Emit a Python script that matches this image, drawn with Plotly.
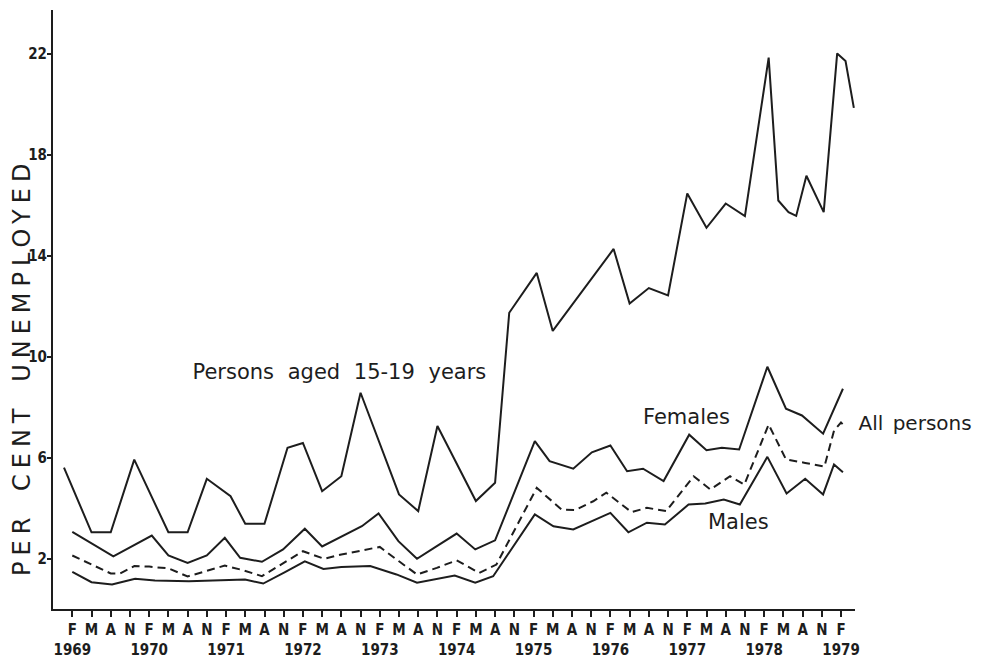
import plotly.graph_objects as go

# ---------------- data (time in decimal years, values in per cent) ----------------
t_15_19 = [1968.975, 1969.333, 1969.583, 1969.889, 1970.333, 1970.583, 1970.833,
           1971.142, 1971.333, 1971.583, 1971.883, 1972.083, 1972.333, 1972.583,
           1972.833, 1973.333, 1973.583, 1973.833, 1974.333, 1974.583, 1974.767,
           1975.125, 1975.333, 1976.125, 1976.333, 1976.583, 1976.833, 1977.083,
           1977.333, 1977.583, 1977.833, 1978.142, 1978.267, 1978.400, 1978.500,
           1978.633, 1978.858, 1979.033, 1979.142, 1979.250]
pct_15_19 = [5.60, 3.04, 3.04, 5.92, 3.04, 3.04, 5.16,
             4.47, 3.38, 3.38, 6.39, 6.58, 4.67, 5.26,
             8.57, 4.54, 3.88, 7.25, 4.28, 5.00, 11.74,
             13.32, 11.02, 14.27, 12.11, 12.72, 12.43, 16.47,
             15.11, 16.07, 15.57, 21.85, 16.19, 15.73, 15.58,
             17.17, 15.73, 22.02, 21.72, 19.86]

t_females = [1969.083, 1969.617, 1970.117, 1970.333, 1970.583, 1970.833, 1971.067,
             1971.267, 1971.550, 1971.825, 1972.108, 1972.333, 1972.850, 1973.067,
             1973.325, 1973.567, 1973.825, 1974.083, 1974.325, 1974.583, 1975.100,
             1975.292, 1975.600, 1975.842, 1976.083, 1976.300, 1976.508, 1976.775,
             1977.108, 1977.333, 1977.533, 1977.758, 1978.125, 1978.367, 1978.575,
             1978.850, 1979.108]
pct_females = [3.06, 2.09, 2.91, 2.12, 1.83, 2.12, 2.82,
               2.03, 1.87, 2.36, 3.18, 2.48, 3.28, 3.79,
               2.69, 1.99, 2.49, 2.99, 2.36, 2.72, 6.65,
               5.86, 5.56, 6.21, 6.48, 5.46, 5.56, 5.07,
               6.91, 6.29, 6.39, 6.32, 9.60, 7.94, 7.67,
               6.95, 8.73]

t_all = [1969.083, 1969.583, 1969.704, 1969.890, 1970.083, 1970.333, 1970.583,
         1971.067, 1971.300, 1971.550, 1972.083, 1972.358, 1972.583, 1972.833,
         1973.083, 1973.333, 1973.567, 1973.825, 1974.083, 1974.375, 1974.600,
         1975.125, 1975.450, 1975.625, 1975.860, 1976.030, 1976.358, 1976.558,
         1976.808, 1977.167, 1977.383, 1977.640, 1977.825, 1978.142, 1978.367,
         1978.617, 1978.867, 1978.992, 1979.083, 1979.150]
pct_all = [2.12, 1.41, 1.41, 1.70, 1.68, 1.61, 1.29,
           1.72, 1.54, 1.30, 2.29, 1.99, 2.16, 2.30,
           2.46, 1.89, 1.37, 1.63, 1.93, 1.43, 1.76,
           4.80, 3.94, 3.92, 4.27, 4.61, 3.84, 4.01,
           3.88, 5.26, 4.74, 5.26, 4.93, 7.31, 5.93,
           5.79, 5.64, 7.07, 7.39, 7.19]

t_males = [1969.083, 1969.333, 1969.600, 1969.900, 1970.158, 1970.600, 1971.330,
           1971.567, 1971.850, 1972.108, 1972.350, 1972.583, 1972.958, 1973.300,
           1973.567, 1974.058, 1974.325, 1974.558, 1975.100, 1975.342, 1975.600,
           1976.083, 1976.317, 1976.558, 1976.792, 1977.100, 1977.317, 1977.558,
           1977.767, 1978.125, 1978.375, 1978.617, 1978.850, 1978.992, 1979.108]
pct_males = [1.47, 1.06, 0.97, 1.20, 1.13, 1.10, 1.17,
             1.01, 1.46, 1.89, 1.59, 1.66, 1.70, 1.37,
             1.04, 1.33, 1.04, 1.30, 3.75, 3.28, 3.15,
             3.81, 3.04, 3.42, 3.35, 4.14, 4.18, 4.34,
             4.14, 6.03, 4.58, 5.16, 4.54, 5.73, 5.42]

# tick labels: Feb, May, Aug, Nov of each year, plus Feb 1979
quarter_letters = ["F", "M", "A", "N"]
quarter_month_offsets = [1, 4, 7, 10]   # months after January
tick_years = list(range(1969, 1979))
y_ticks = [2, 6, 10, 14, 18, 22]

tick_vals, tick_text = [], []
for yr in tick_years:
    for letter, mo in zip(quarter_letters, quarter_month_offsets):
        tick_vals.append(yr + mo / 12)
        tick_text.append(f"F<br>{yr}" if letter == "F" else letter)
tick_vals.append(1979 + 1 / 12)
tick_text.append("F<br>1979")

# ---------------- figure ----------------
ink = "#1d1d1d"
fig = go.Figure()
series = [
    (t_15_19, pct_15_19, "solid", "Persons aged 15-19 years"),
    (t_females, pct_females, "solid", "Females"),
    (t_all, pct_all, "8px,5px", "All persons"),
    (t_males, pct_males, "solid", "Males"),
]
for xs, ys, dash, name in series:
    fig.add_trace(go.Scatter(x=xs, y=ys, mode="lines", name=name,
                             line=dict(color=ink, width=2, dash=dash),
                             showlegend=False, hoverinfo="skip"))

label_font = dict(family="DejaVu Sans", size=21, color=ink)
tick_font_family = "DejaVu Sans Condensed, DejaVu Sans"

fig.update_layout(
    width=975, height=651,
    margin=dict(l=45, r=128, t=2, b=50),
    paper_bgcolor="white", plot_bgcolor="white",
    xaxis=dict(range=[1968.832, 1979.265], tickmode="array", tickvals=tick_vals,
               ticktext=tick_text, tickangle=0, ticks="outside", ticklen=6,
               tickwidth=1.5, tickcolor=ink, showline=True, linewidth=2,
               linecolor=ink, showgrid=False, zeroline=False, automargin=False,
               tickfont=dict(family=tick_font_family, size=15, color=ink, weight="bold")),
    yaxis=dict(range=[0, 23.74], tickmode="array", tickvals=y_ticks,
               ticktext=[str(v) for v in y_ticks], ticks="outside", ticklen=4,
               ticklabelstandoff=-3,
               tickwidth=1.5, tickcolor=ink, showline=True, linewidth=2,
               linecolor=ink, showgrid=False, zeroline=False, automargin=False,
               tickfont=dict(family=tick_font_family, size=15, color=ink, weight="bold")),
    annotations=[
        dict(text="Persons aged 15-19 years", x=1972.559, y=9.41, xref="x", yref="y",
             showarrow=False, font=label_font, xanchor="center", yanchor="middle"),
        dict(text="Females", x=1977.073, y=7.59, xref="x", yref="y",
             showarrow=False, font=label_font, xanchor="center", yanchor="middle"),
        dict(text="Males", x=1977.743, y=3.45, xref="x", yref="y",
             showarrow=False, font=label_font, xanchor="center", yanchor="middle"),
        dict(text="All persons", x=1.004, y=7.39, xref="paper", yref="y",
             showarrow=False, font=dict(family="DejaVu Sans", size=20, color=ink),
             xanchor="left", yanchor="middle"),
        dict(text="PER CENT UNEMPLOYED", x=-0.0387, y=0.404, xref="paper", yref="paper",
             showarrow=False, textangle=-90, xanchor="center", yanchor="middle",
             font=dict(family="DejaVu Sans", size=24, color=ink)),
    ],
)

# the original lettering is set with generous word and letter spacing
spacing_js = """
document.querySelectorAll('text.annotation-text').forEach(function (t) {
  var s = t.textContent;
  if (s.indexOf('UNEMPLOYED') >= 0) { t.style.wordSpacing = '7px'; t.style.letterSpacing = '6px'; }
  else if (s.indexOf('All') === 0) { t.style.wordSpacing = '3px'; }
  else { t.style.wordSpacing = '7px'; }
});
"""

fig.write_html("out.html", post_script=spacing_js)
